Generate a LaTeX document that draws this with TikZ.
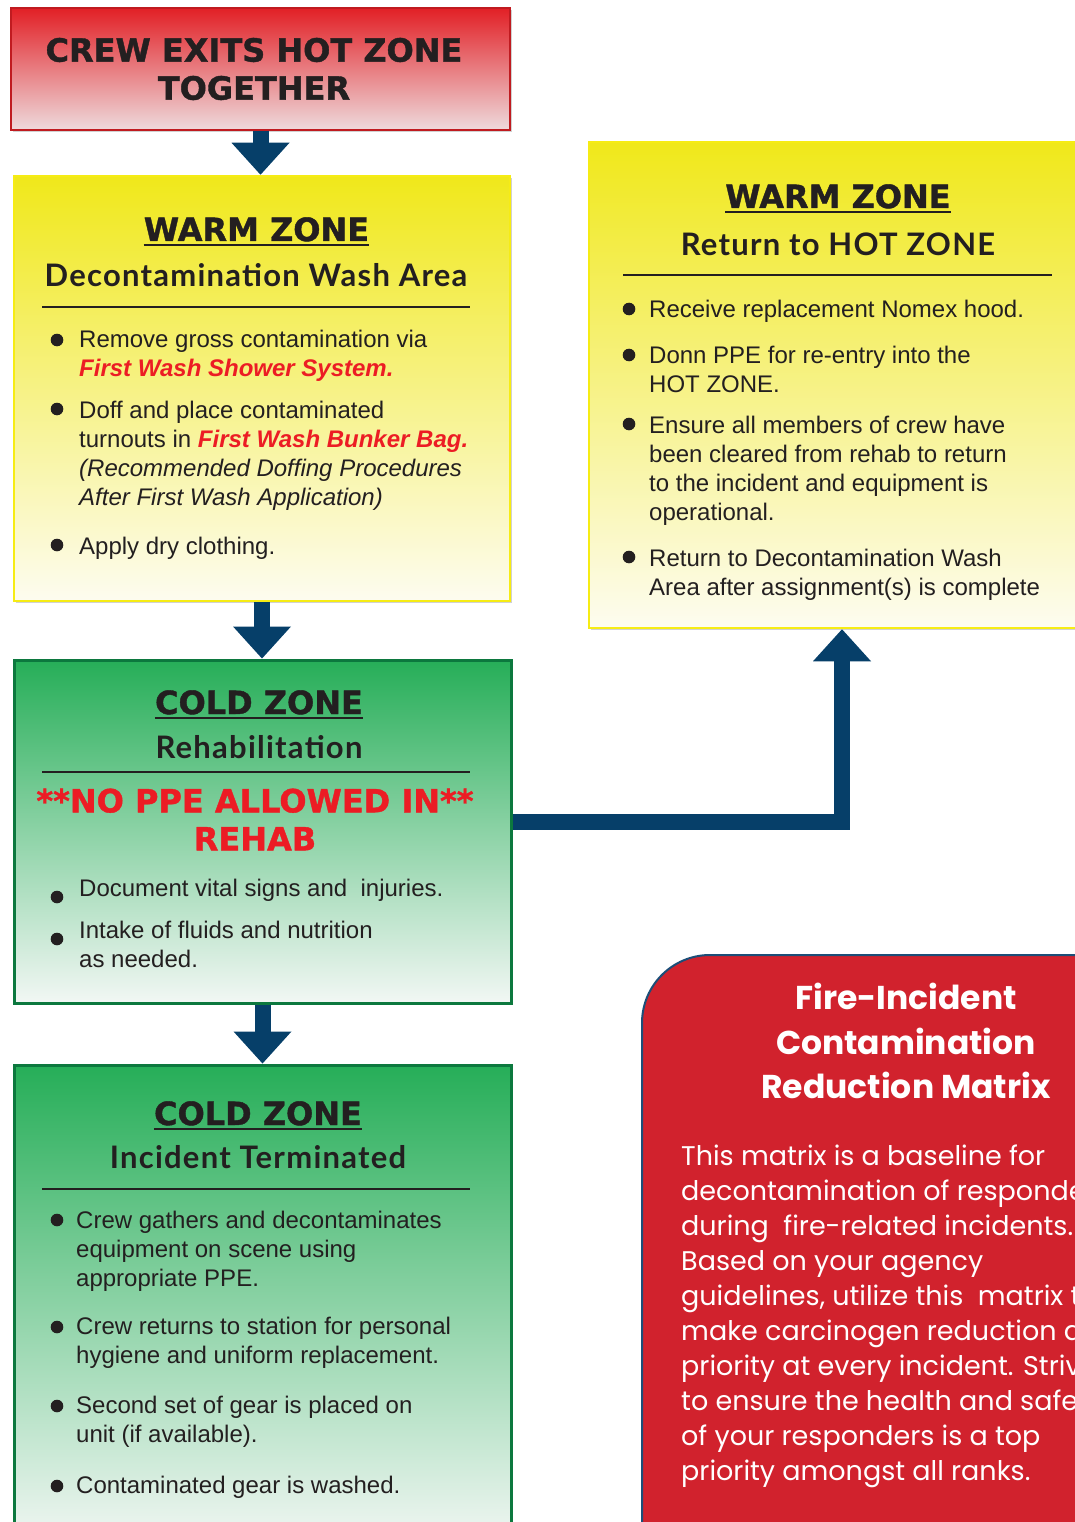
\documentclass[tikz,border=0pt]{standalone}
\usepackage{fontspec}
\setmainfont{Liberation Sans}
\newfontfamily\headfont{DejaVu Sans}[BoldFeatures={FakeBold=1.2}]
\newfontfamily\subfont{Lato}[LetterSpace=4]
\newfontfamily\matrixfont{Poppins}
\usetikzlibrary{arrows.meta,shadows}

\definecolor{ink}{RGB}{35,31,32}
\definecolor{hotred}{RGB}{226,32,38}
\definecolor{hotpink}{RGB}{238,218,220}
\definecolor{warmyel}{RGB}{240,232,26}
\definecolor{warmpale}{RGB}{253,252,240}
\definecolor{warmedge}{RGB}{246,236,20}
\definecolor{coldgreen}{RGB}{38,174,88}
\definecolor{coldpale}{RGB}{242,247,244}
\definecolor{coldedge}{RGB}{12,120,62}
\definecolor{alertred}{RGB}{236,28,36}
\definecolor{matrixred}{RGB}{209,34,45}
\definecolor{matrixedge}{RGB}{28,78,120}
\definecolor{navy}{RGB}{6,63,105}

\begin{document}
\begin{tikzpicture}[x=1pt,y=-1pt,
    boxshadow/.style={drop shadow={shadow xshift=2pt, shadow yshift=-2pt, opacity=.18, fill=black}},
    hotbox/.style={boxshadow, draw=hotred!85!black, line width=1.5pt, top color=hotred, bottom color=hotpink, inner sep=0pt},
    warmbox/.style={boxshadow, draw=warmedge, line width=2.5pt, top color=warmyel, bottom color=warmpale, inner sep=0pt},
    coldbox/.style={boxshadow, draw=coldedge, line width=3pt, top color=coldgreen, bottom color=coldpale, inner sep=0pt},
    flowarrow/.style={draw=navy, line width=16pt, line join=miter, -{Triangle[width=58pt,length=32pt,line width=0pt]}},
    headtxt/.style={inner sep=0pt, text=ink, font=\headfont\bfseries\fontsize{32}{38}\selectfont},
    subtxt/.style={inner sep=0pt, text=ink, font=\subfont\bfseries\fontsize{31}{36}\selectfont},
    bullettxt/.style={inner sep=0pt, anchor=base west, text=ink, font=\fontsize{24}{29}\selectfont},
    rulebar/.style={draw=ink, line width=2.5pt},
    uline/.style={draw=ink, line width=2pt}]
\useasboundingbox (0,0) rectangle (1075,1522);

%BOXES
\node[hotbox, minimum width=499pt, minimum height=122pt] (crew) at (260.5,69) {};
\node[warmbox, minimum width=496pt, minimum height=425pt] (decon) at (262,388.5) {};
\node[coldbox, minimum width=497pt, minimum height=343pt] (rehab) at (262.5,831.5) {};
\node[coldbox, minimum width=497pt, minimum height=480pt] (term) at (262.5,1305) {};
\node[warmbox, minimum width=506pt, minimum height=486pt] (return) at (842,385) {};
\draw[draw=matrixedge, line width=2pt, fill=matrixred] (642,1545) -- (642,1023)
    arc[start angle=180, end angle=270, radius=68] -- (1100,955) -- (1100,1545) -- cycle;

%ARROWS
\draw[flowarrow] (crew.south) -- (crew.south |- decon.north);
\draw[flowarrow] (decon.south) -- (decon.south |- rehab.north);
\draw[flowarrow] (rehab.south) -- (rehab.south |- term.north);
\draw[flowarrow] ([yshift=10pt]rehab.east) -| (return.south);

%HOT ZONE
\node[headtxt, align=center] (exit) at (254,69) {CREW EXITS HOT ZONE\\TOGETHER};

%WARM ZONE - DECON
\node[headtxt, anchor=base] (warm1) at (256.5,241) {WARM ZONE};
\draw[uline] ([yshift=-4pt]warm1.base west) -- ([yshift=-4pt]warm1.base east);
\node[subtxt, anchor=base] (wash) at (256,286) {Decontamination Wash Area};
\draw[rulebar] (42,307) -- (470,307);
\fill[ink] (57,340) circle (6.3);
\node[bullettxt] (w1) at (79,347) {\parbox[t]{420pt}{\raggedright Remove gross contamination via\\
  {\color{alertred}\bfseries\itshape First Wash Shower System.}}};
\fill[ink] (57,409) circle (6.3);
\node[bullettxt] (w2) at (79,418) {\parbox[t]{420pt}{\raggedright Doff and place contaminated\\
  turnouts in {\color{alertred}\bfseries\itshape First Wash Bunker Bag.}\\
  \itshape (Recommended Doffing Procedures\\ After First Wash Application)}};
\fill[ink] (57,545) circle (6.3);
\node[bullettxt] (w3) at (79,554) {Apply dry clothing.};

%COLD ZONE - REHAB
\node[headtxt, anchor=base] (cold1) at (259,714) {COLD ZONE};
\draw[uline] ([yshift=-4pt]cold1.base west) -- ([yshift=-4pt]cold1.base east);
\node[subtxt, anchor=base] (rehabtxt) at (259,758) {Rehabilitation};
\draw[rulebar] (42,772) -- (470,772);
\node[headtxt, text=alertred, align=center] (noppe) at (255,819.5) {**NO PPE ALLOWED IN**\\REHAB};
\fill[ink] (57,897) circle (6.3);
\node[bullettxt] (r1) at (79,896) {Document vital signs and\ \ injuries.};
\fill[ink] (57,939) circle (6.3);
\node[bullettxt] (r2) at (79,938) {\parbox[t]{420pt}{\raggedright Intake of fluids and nutrition\\ as needed.}};

%COLD ZONE - TERMINATED
\node[headtxt, anchor=base] (cold2) at (258,1125) {COLD ZONE};
\draw[uline] ([yshift=-4pt]cold2.base west) -- ([yshift=-4pt]cold2.base east);
\node[subtxt, anchor=base] (termtxt) at (258,1168) {Incident Terminated};
\draw[rulebar] (42,1189) -- (470,1189);
\fill[ink] (57,1220) circle (6.3);
\node[bullettxt] (t1) at (76,1228) {\parbox[t]{420pt}{\raggedright Crew gathers and decontaminates\\
  equipment on scene using\\ appropriate PPE.}};
\fill[ink] (57,1327) circle (6.3);
\node[bullettxt] (t2) at (76,1334) {\parbox[t]{420pt}{\raggedright Crew returns to station for personal\\
  hygiene and uniform replacement.}};
\fill[ink] (57,1406) circle (6.3);
\node[bullettxt] (t3) at (76,1413) {\parbox[t]{420pt}{\raggedright Second set of gear is placed on\\
  unit (if available).}};
\fill[ink] (57,1486) circle (6.3);
\node[bullettxt] (t4) at (76,1493) {Contaminated gear is washed.};

%WARM ZONE - RETURN
\node[headtxt, anchor=base] (warm2) at (838,208) {WARM ZONE};
\draw[uline] ([yshift=-4pt]warm2.base west) -- ([yshift=-4pt]warm2.base east);
\node[subtxt, anchor=base] (hottxt) at (838,255) {Return to HOT ZONE};
\draw[rulebar] (623,275) -- (1052,275);
\fill[ink] (629,309) circle (6.3);
\node[bullettxt] (h1) at (649,317) {Receive replacement Nomex hood.};
\fill[ink] (629,355) circle (6.3);
\node[bullettxt] (h2) at (649,363) {\parbox[t]{430pt}{\raggedright Donn PPE for re-entry into the\\ HOT ZONE.}};
\fill[ink] (629,424) circle (6.3);
\node[bullettxt] (h3) at (649,433) {\parbox[t]{430pt}{\raggedright Ensure all members of crew have\\
  been cleared from rehab to return\\ to the incident and equipment is\\ operational.}};
\fill[ink] (629,557) circle (6.3);
\node[bullettxt] (h4) at (649,566) {\parbox[t]{430pt}{\raggedright Return to Decontamination Wash\\
  Area after assignment(s) is complete}};

%MATRIX
\node[inner sep=0pt, align=center, text=white, font=\matrixfont\bfseries\fontsize{33}{44.5}\selectfont] (title) at (906,1041)
  {Fire-Incident\\Contamination\\Reduction Matrix};
\node[inner sep=0pt, anchor=base west, text=white, font=\matrixfont\fontsize{27}{35.1}\selectfont] (blurb) at (681,1165)
  {\parbox[t]{520pt}{\raggedright This matrix is a baseline for\\ decontamination of responders\\
  during\ \ fire-related incidents.\\ Based on your agency\\ guidelines, utilize this\ \ matrix to\\
  make carcinogen reduction a\\ priority at every incident. Strive\\ to ensure the health and safety\\
  of your responders is a top\\ priority amongst all ranks.}};
\end{tikzpicture}
\end{document}
